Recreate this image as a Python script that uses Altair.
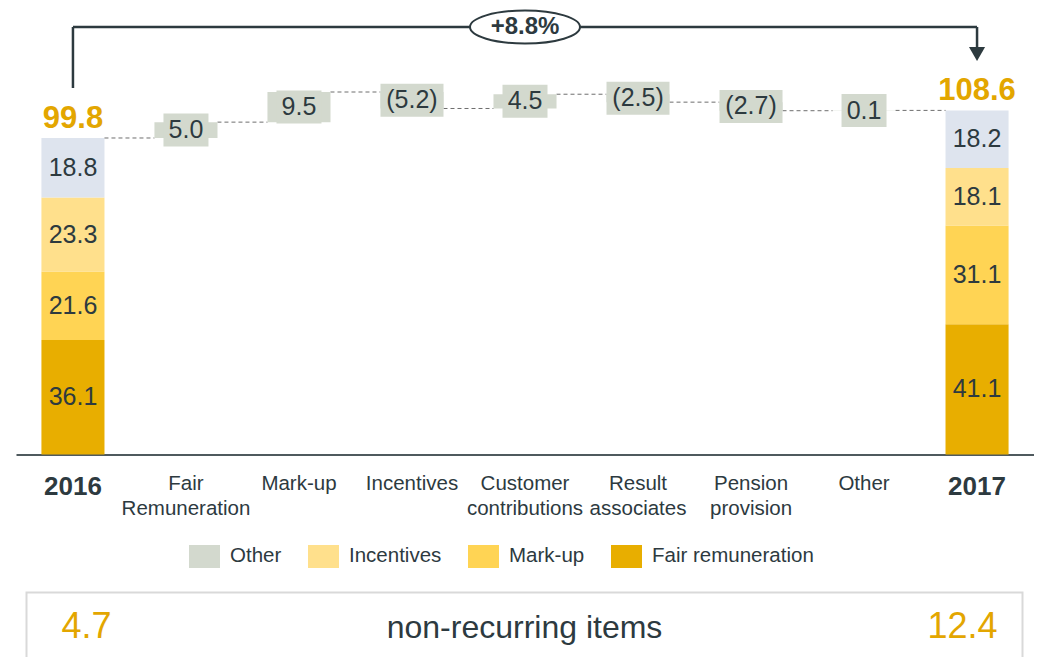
import altair as alt
import pandas as pd

# ---------------- data ----------------
categories = ["2016", "Fair Remuneration", "Mark-up", "Incentives",
              "Customer contributions", "Result associates",
              "Pension provision", "Other", "2017"]
deltas = [5.0, 9.5, -5.2, 4.5, -2.5, -2.7, 0.1]
components = ["Fair remuneration", "Mark-up", "Incentives", "Other"]
stack_2016 = [36.1, 21.6, 23.3, 18.8]
stack_2017 = [41.1, 31.1, 18.1, 18.2]
totals = [99.8, 108.6]
nonrecurring = [4.7, 12.4]
nonrecurring_title = "non-recurring items"

legend_names = ["Other", "Incentives", "Mark-up", "Fair remuneration"]
legend_colors = ["#D3D9CE", "#FFE08C", "#FFD454", "#E8AE00"]
stack_colors = ["#E8AE00", "#FFD454", "#FFE08C", "#DEE4EE"]

DARK = "#2D3A3F"
GOLD = "#E3A600"
FONT = "Liberation Sans"

# ---------------- tables ----------------
stack_rows = []
for year, vals in [(categories[0], stack_2016), (categories[-1], stack_2017)]:
    cum = 0.0
    for comp, v in zip(components, vals):
        stack_rows.append(dict(cat=year, component=comp, y0=cum, y1=cum + v,
                               mid=cum + v / 2, label=f"{v:.1f}"))
        cum += v
stack_df = pd.DataFrame(stack_rows)

delta_rows = []
running = totals[0]
levels = [running]
for cat, d in zip(categories[1:-1], deltas):
    start, end = running, running + d
    delta_rows.append(dict(cat=cat, start=start, end=end, mid=(start + end) / 2,
                           delta=d, kind="Other",
                           label=f"({abs(d):.1f})" if d < 0 else f"{d:.1f}"))
    running = end
    levels.append(running)
delta_df = pd.DataFrame(delta_rows)

conn_df = pd.DataFrame(dict(c1=categories[:-1], c2=categories[1:], level=levels))

tot_df = pd.DataFrame(dict(cat=[categories[0], categories[-1]], total=totals,
                           label=[f"{t:.1f}" for t in totals]))

top_level = max(levels)
pct = (totals[1] / totals[0] - 1) * 100
bracket_df = pd.DataFrame(dict(c1=[categories[0]], c2=[categories[-1]],
                               cmid=[categories[len(categories) // 2]],
                               t1=[totals[0]], t2=[totals[1]], top=[top_level],
                               label=[f"+{pct:.1f}%"]))

bottom_df = pd.DataFrame(dict(slot=["a", "b", "c"],
                              text=[f"{nonrecurring[0]:.1f}", nonrecurring_title,
                                    f"{nonrecurring[1]:.1f}"],
                              kind=["num", "title", "num"]))

# ---------------- encodings ----------------
xscale = alt.Scale(domain=categories, paddingInner=0.442, paddingOuter=0.225)
yscale = alt.Scale(domain=[0, 140], nice=False, zero=True)

bold_expr = "datum.value == '2016' || datum.value == '2017'"
x_axis = alt.Axis(title=None, ticks=False, domainColor="#4F5A5E", domainWidth=2,
                  labelAngle=0, labelExpr="split(datum.label, ' ')",
                  labelFontSize={"expr": f"{bold_expr} ? 26 : 20.5"},
                  labelFontWeight={"expr": f"{bold_expr} ? 'bold' : 'normal'"},
                  labelColor=DARK, labelPadding=19, labelLineHeight=25,
                  labelBaseline="top", labelFont=FONT, grid=False, labelLimit=300)


def X(field="cat"):
    return alt.X(f"{field}:N", scale=xscale, sort=categories, axis=x_axis)


def Y(field):
    return alt.Y(f"{field}:Q", scale=yscale, axis=None)


stack_bars = alt.Chart(stack_df).mark_bar().encode(
    x=X(), y=Y("y0"), y2="y1",
    color=alt.Color("component:N", scale=alt.Scale(domain=components, range=stack_colors),
                    legend=None))
stack_text = alt.Chart(stack_df).mark_text(fontSize=25, color=DARK, baseline="middle").encode(
    x=X(), y=Y("mid"), text="label:N")

connectors = alt.Chart(conn_df).mark_rule(color="#6E6E6E", strokeDash=[4, 3], strokeWidth=1,
                                          xOffset=31.5, x2Offset=-31.5).encode(
    x=X("c1"), x2="c2", y=Y("level"))

legend = alt.Legend(orient="none", legendX=173, legendY=530, direction="horizontal",
                    title=None, symbolType="M-1,-0.742H1V0.742H-1Z", symbolSize=961,
                    symbolStrokeWidth=0, labelFontSize=20.5, labelColor=DARK,
                    labelFont=FONT, labelOffset=10, columns=4, columnPadding=26,
                    labelLimit=300)
delta_bars = alt.Chart(delta_df).mark_bar().encode(
    x=X(), y=Y("start"), y2="end",
    color=alt.Color("kind:N", scale=alt.Scale(domain=legend_names, range=legend_colors),
                    legend=legend))
delta_boxes = alt.Chart(delta_df).mark_bar(color="#D3D9CE", yOffset=-16.5, y2Offset=16.5).encode(
    x=X(), y=Y("mid"), y2="mid",
    size=alt.condition("datum.delta < 0", alt.value(63), alt.value(45)))
delta_text = alt.Chart(delta_df).mark_text(fontSize=25, color=DARK, baseline="middle").encode(
    x=X(), y=Y("mid"), text="label:N")

tot_text = alt.Chart(tot_df).mark_text(fontSize=31, fontWeight="bold", color=GOLD,
                                       baseline="alphabetic", dy=-10).encode(
    x=X(), y=Y("total"), text="label:N")

RISE = 65
b = alt.Chart(bracket_df)
left_v = b.mark_rule(color=DARK, strokeWidth=2.5, yOffset=-50, y2Offset=-RISE).encode(
    x=X("c1"), y=Y("t1"), y2="top")
top_h = b.mark_rule(color=DARK, strokeWidth=2.5, yOffset=-RISE).encode(
    x=X("c1"), x2="c2", y=Y("top"))
right_v = b.mark_rule(color=DARK, strokeWidth=2.5, yOffset=-RISE, y2Offset=-62).encode(
    x=X("c2"), y=Y("top"), y2="t2")
arrow = b.mark_point(shape="triangle-down", filled=True, color=DARK, size=260,
                     opacity=1, yOffset=-56).encode(
    x=X("c2"), y=Y("t2"))
ellipse = b.mark_point(shape="M-1,0A1,0.3,0,1,1,1,0A1,0.3,0,1,1,-1,0Z", size=12100,
                       fill="white", stroke=DARK, strokeWidth=2, filled=False,
                       opacity=1, fillOpacity=1, yOffset=-RISE).encode(
    x=X("cmid"), y=Y("top"))
pct_text = b.mark_text(fontSize=24, fontWeight="bold", color=DARK, baseline="middle",
                       yOffset=-RISE).encode(
    x=X("cmid"), y=Y("top"), text="label:N")

main = alt.layer(stack_bars, stack_text, connectors, delta_bars, delta_boxes, delta_text,
                 tot_text, left_v, top_h, right_v, arrow, ellipse, pct_text).resolve_scale(
    color="independent").properties(width=1018, height=444,
                                   view=alt.ViewBackground(stroke=None))

bx = alt.X("slot:N", sort=["a", "b", "c"], scale=alt.Scale(type="point", padding=0.137),
           axis=None)
bottom_base = alt.Chart(bottom_df)
bottom_nums = bottom_base.transform_filter("datum.kind == 'num'").mark_text(
    fontSize=36, color=GOLD, baseline="alphabetic").encode(
    x=bx, y=alt.value(45), text="text:N")
bottom_title = bottom_base.transform_filter("datum.kind == 'title'").mark_text(
    fontSize=32, color=DARK, baseline="alphabetic").encode(
    x=bx, y=alt.value(45), text="text:N")
bottom = alt.layer(bottom_nums, bottom_title).properties(
    width=996, height=80,
    view=alt.ViewBackground(stroke="#D9D9D9", strokeWidth=2, fill="white"))

chart = alt.vconcat(main, bottom, spacing=23, center=True).configure(
    font=FONT, padding={"left": 16, "top": 6.5, "right": 0, "bottom": 0},
    background="white")

chart.save("out.html", embed_options={"renderer": "svg", "actions": False})
